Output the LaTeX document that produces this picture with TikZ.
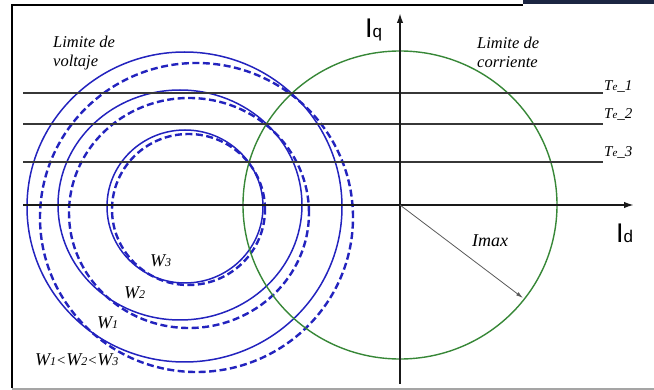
\documentclass[tikz,border=0pt]{standalone}
\usepackage{fontspec}
\setmainfont{Liberation Serif}
\newfontfamily\axisfont{Liberation Sans}
\usetikzlibrary{arrows.meta}
\definecolor{vblue}{RGB}{35,35,190}
\definecolor{cgreen}{RGB}{55,135,55}
\definecolor{axisdark}{RGB}{25,25,25}
\definecolor{linedark}{RGB}{55,55,55}
\definecolor{navyblock}{RGB}{28,38,66}
\definecolor{framegray}{RGB}{165,165,165}
\tikzset{
  vsolid/.style={draw=vblue, line width=1.5pt},
  vdashed/.style={draw=vblue, line width=2.4pt, dash pattern=on 7pt off 3.5pt},
  climit/.style={draw=cgreen, line width=1.4pt},
  axisline/.style={draw=axisdark, line width=1.8pt, -{Latex[length=10pt,width=6.5pt]}},
  teline/.style={draw=linedark, line width=1.5pt},
  imaxarrow/.style={draw=black!65, line width=0.8pt, -{Latex[length=7pt,width=4pt]}},
  lbl/.style={inner sep=0pt, font=\fontsize{16.5}{19}\selectfont\itshape},
  wlbl/.style={inner sep=0pt, font=\fontsize{18}{20}\selectfont\itshape, anchor=base west},
  telbl/.style={inner sep=0pt, font=\fontsize{15}{17}\selectfont\itshape, anchor=base west},
  axlbl/.style={inner sep=0pt, font=\axisfont\fontsize{27}{30}\selectfont, anchor=base west}
}
\newcommand{\subd}[1]{{\fontsize{12}{12}\selectfont #1}}
\newcommand{\tesub}[1]{T{\fontsize{11}{11}\selectfont e}\_#1}
\begin{document}
\begin{tikzpicture}[x=1pt,y=-1pt]
\useasboundingbox (0,0) rectangle (654,390);
% frame
\fill[navyblock] (523,0) rectangle (654,4.5);
\draw[black, line width=2pt] (12,388) -- (12,5) -- (523,5);
\draw[framegray, line width=1.5pt] (12,389) -- (654,389);
% voltage limit circles
\draw[vsolid]  (184.5,207) ellipse [x radius=157.5pt, y radius=155pt];
\draw[vdashed] (196.5,217.5) ellipse [x radius=156.5pt, y radius=154.5pt];
\draw[vsolid]  (180,205) ellipse [x radius=122pt, y radius=115pt];
\draw[vdashed] (189,213) ellipse [x radius=120pt, y radius=115pt];
\draw[vsolid]  (185,206.5) ellipse [x radius=78pt, y radius=76.5pt];
\draw[vdashed] (188.5,209.5) ellipse [x radius=76.5pt, y radius=75.5pt];
% current limit circle
\draw[climit] (400,205) ellipse [x radius=157pt, y radius=154pt];
% torque lines
\coordinate (t1a) at (23,93);  \coordinate (t1b) at (603,93);
\coordinate (t2a) at (23,124); \coordinate (t2b) at (603,124);
\coordinate (t3a) at (23,162); \coordinate (t3b) at (603,162);
\draw[teline] (t1a) -- (t1b);
\draw[teline] (t2a) -- (t2b);
\draw[teline] (t3a) -- (t3b);
\node[telbl] (te1) at (604,91)  {\tesub{1}};
\node[telbl] (te2) at (604,119) {\tesub{2}};
\node[telbl] (te3) at (604,157) {\tesub{3}};
% axes
\coordinate (O)  at (400,205);
\coordinate (dL) at (23,205);
\coordinate (dR) at (634,205);
\coordinate (qB) at (400,384);
\coordinate (qT) at (400,13);
\draw[axisline] (dL) -- (dR);
\draw[axisline] (qB) -- (qT);
\node[axlbl] (Id) at (616,243) {I{\fontsize{17}{17}\selectfont d}};
\node[axlbl] (Iq) at (365,38) {I{\fontsize{17}{17}\selectfont q}};
% Imax
\coordinate (Pm) at (523,298);
\draw[imaxarrow] (O) -- (Pm);
\node[inner sep=0pt, font=\fontsize{18}{20}\selectfont\itshape, anchor=base west] (imax) at (472,247) {Imax};
% region labels
\node[lbl, anchor=north west, align=left] (vlim) at (53,35.5) {Limite de\\voltaje};
\node[lbl, anchor=north west, align=left] (clim) at (477,37) {Limite de\\corriente};
% speed labels
\node[wlbl] (w3) at (150,267) {W\subd{3}};
\node[wlbl] (w2) at (124,299) {W\subd{2}};
\node[wlbl] (w1) at (97,329)  {W\subd{1}};
\node[wlbl] (wc) at (35,366)  {W\subd{1}{\fontsize{15}{15}\selectfont<}W\subd{2}{\fontsize{15}{15}\selectfont<}W\subd{3}};
\end{tikzpicture}
\end{document}
